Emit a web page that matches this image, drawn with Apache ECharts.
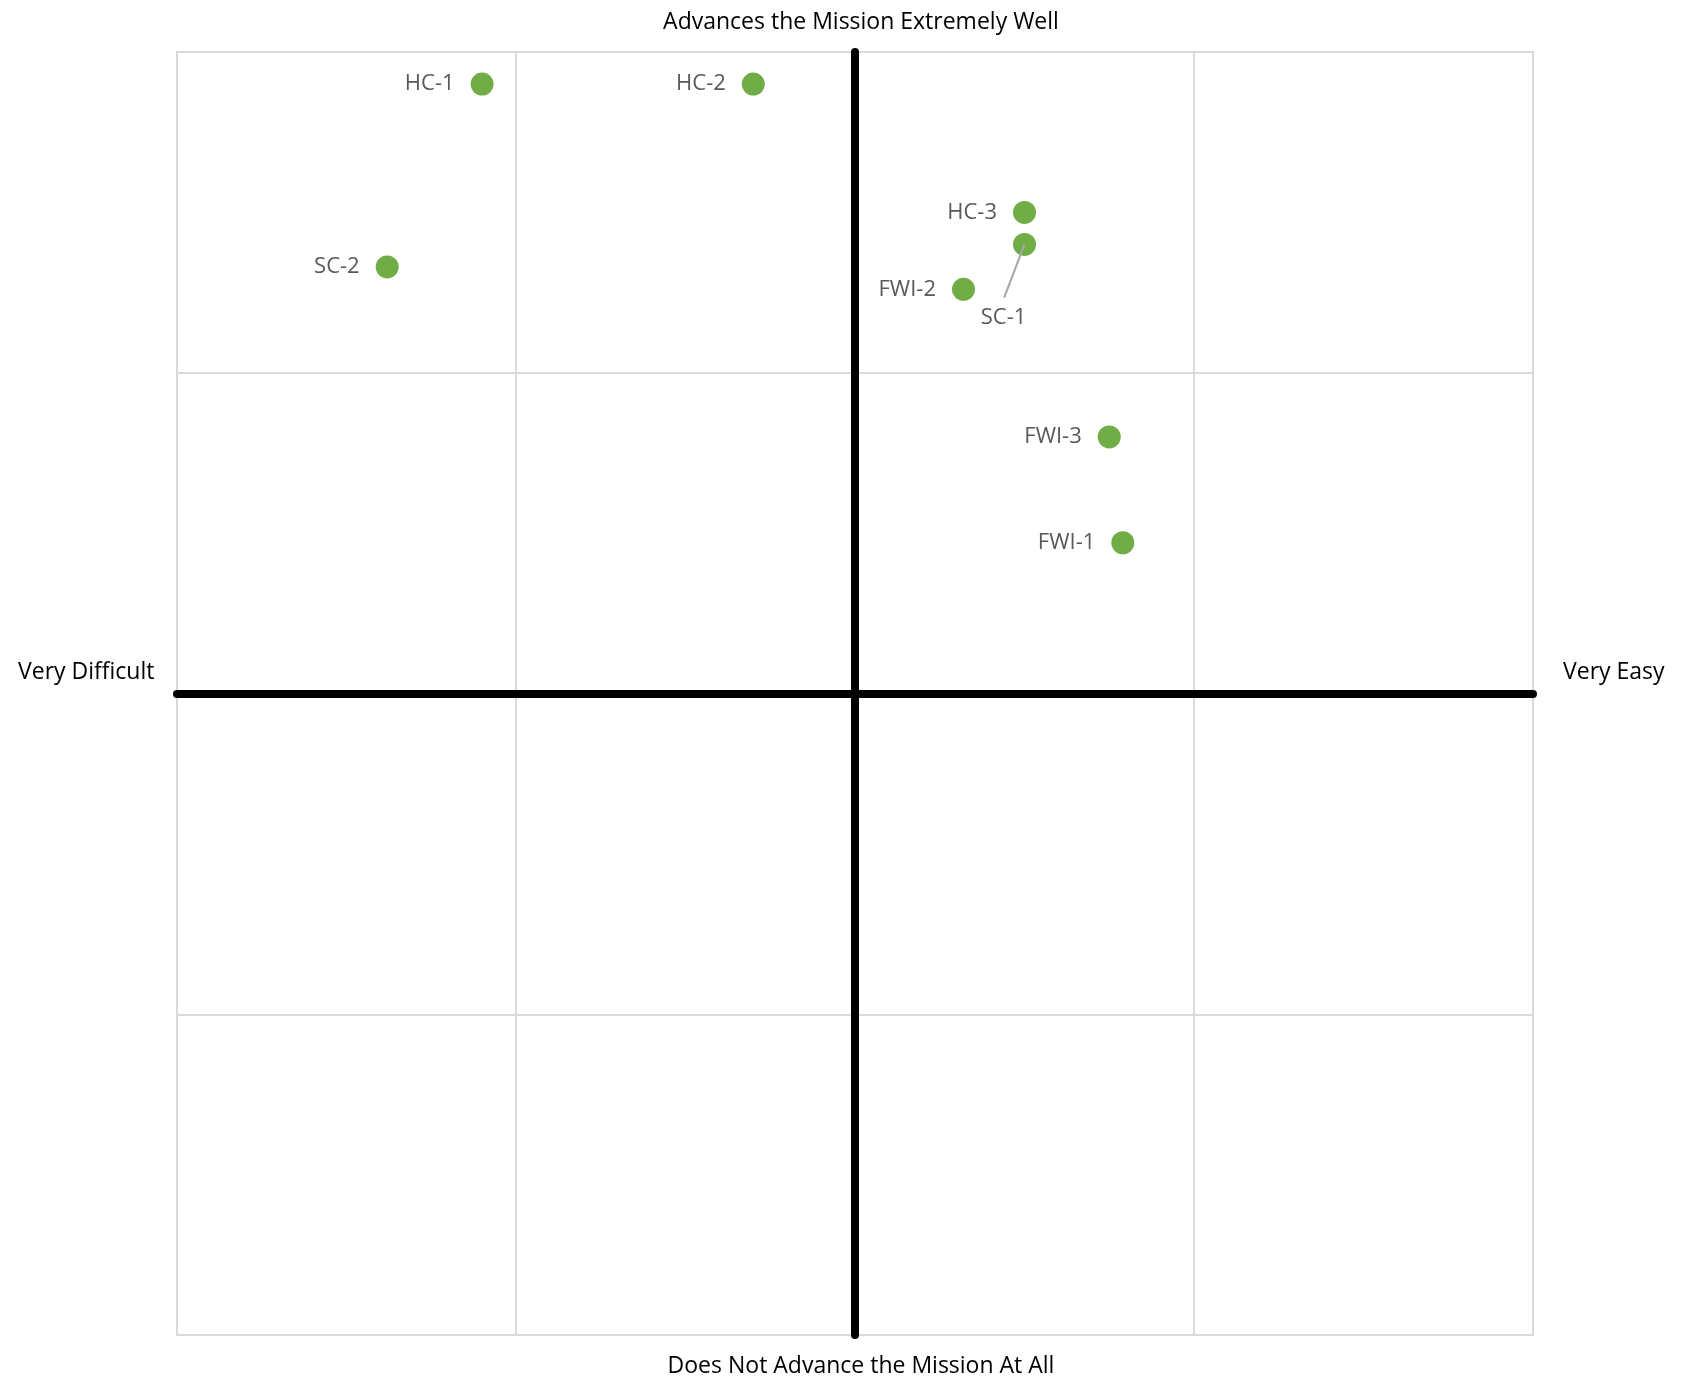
<!DOCTYPE html>
<html>
<head>
<meta charset="utf-8">
<script src="https://cdn.jsdelivr.net/npm/echarts@6/dist/echarts.min.js"></script>
<style>
html,body{margin:0;padding:0;background:#fff;}
#chart{width:1686px;height:1381px;}
</style>
</head>
<body>
<div id="chart"></div>
<script>
// Data
var names = ['HC-1', 'HC-2', 'SC-2', 'HC-3', 'SC-1', 'FWI-2', 'FWI-3', 'FWI-1'];
var easeValues = [-5.5, -1.5, -6.9, 2.5, 2.5, 1.6, 3.75, 3.95];        // x: Very Difficult (-) .. Very Easy (+)
var missionValues = [9.5, 9.5, 6.65, 7.5, 7.0, 6.3, 4.0, 2.35];       // y: Does Not Advance (-) .. Extremely Well (+)
var sc1LeaderEnd = [2.2, 6.17];                                        // where the SC-1 label's leader line ends
var axisTitles = {
  top: 'Advances the Mission Extremely Well',
  bottom: 'Does Not Advance the Mission At All',
  left: 'Very Difficult',
  right: 'Very Easy'
};

var FONT = '"Open Sans", "Noto Sans", sans-serif';
var chart = echarts.init(document.getElementById('chart'), null, {renderer: 'canvas'});

var sc1Index = names.indexOf('SC-1');
var points = names.map(function (n, i) {
  var item = {name: n, value: [easeValues[i], missionValues[i]]};
  if (i === sc1Index) {
    item.label = {position: 'inside', offset: [-21, 73]};
  }
  return item;
});

var titleStyle = {fontFamily: FONT, fontSize: 23, fontWeight: 'normal', color: '#000'};

var option = {
  animation: false,
  backgroundColor: '#ffffff',
  title: [
    {text: axisTitles.top, left: 856, textAlign: 'center', top: 6, textStyle: titleStyle},
    {text: axisTitles.bottom, left: 856, textAlign: 'center', top: 1350, textStyle: titleStyle},
    {text: axisTitles.left, left: 13, top: 656, textStyle: titleStyle},
    {text: axisTitles.right, left: 1558, top: 656, textStyle: titleStyle}
  ],
  grid: {
    left: 177, right: 153, top: 52, bottom: 46,
    show: true, borderColor: '#D9D9D9', borderWidth: 2, containLabel: false
  },
  xAxis: {
    type: 'value', min: -10, max: 10, interval: 5,
    axisLine: {show: true, onZero: true, lineStyle: {color: '#000', width: 8}},
    axisTick: {show: false},
    axisLabel: {show: false},
    splitLine: {show: true, lineStyle: {color: '#D9D9D9', width: 2}}
  },
  yAxis: {
    type: 'value', min: -10, max: 10, interval: 5,
    axisLine: {show: true, onZero: true, lineStyle: {color: '#000', width: 8}},
    axisTick: {show: false},
    axisLabel: {show: false},
    splitLine: {show: true, lineStyle: {color: '#D9D9D9', width: 2}}
  },
  series: [{
    type: 'scatter',
    symbol: 'circle',
    symbolSize: 23,
    itemStyle: {color: '#70AD47', opacity: 1},
    z: 5,
    label: {
      show: true,
      position: 'left',
      distance: 16,
      formatter: '{b}',
      fontFamily: FONT,
      fontSize: 22,
      color: '#595959',
      opacity: 1
    },
    emphasis: {disabled: true},
    data: points
  }, {
    type: 'line',
    z: 6,
    symbol: 'none',
    silent: true,
    lineStyle: {color: '#A6A6A6', width: 2},
    data: [[easeValues[sc1Index], missionValues[sc1Index]], sc1LeaderEnd]
  }]
};
chart.setOption(option);
</script>
</body>
</html>
